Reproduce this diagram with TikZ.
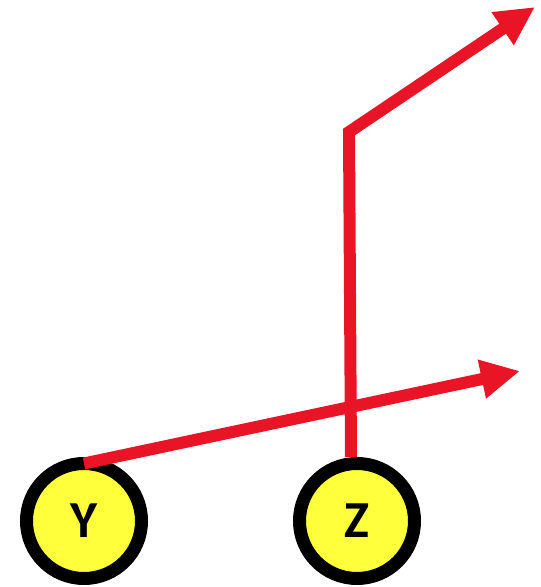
\documentclass[tikz,border=0pt]{standalone}
\usepackage{fontspec}
\setmainfont{Carlito}
\usetikzlibrary{arrows.meta}
\definecolor{arrowred}{HTML}{E91426}
\definecolor{nodeyellow}{HTML}{FFFF3C}
\begin{document}
\begin{tikzpicture}[x=1pt,y=1pt,
  varnode/.style={circle,draw=black,line width=13pt,fill=nodeyellow,minimum size=115pt,inner sep=0pt,outer sep=0pt,font=\bfseries\fontsize{52}{52}\selectfont},
  redarrow/.style={draw=arrowred,line width=12pt,-{Triangle[length=39pt,width=37pt]}}]
\useasboundingbox (0,0) rectangle (541,587);
\node[varnode] (Y) at (84,66) {Y};
\node[varnode] (Z) at (357,66) {Z};
\coordinate (zs) at (351,130);
\coordinate (bend) at (349,455);
\coordinate (t1) at (520,216);
\coordinate (t2) at (535,580);
\draw[redarrow] (Y.north) -- (t1);
\draw[redarrow] (zs) -- (bend) -- (t2);
\end{tikzpicture}
\end{document}
